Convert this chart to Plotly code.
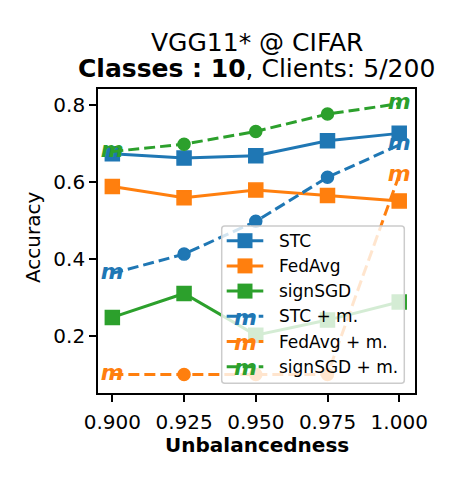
import plotly.graph_objects as go

# ---------------- data ----------------
unbalancedness = [0.900, 0.925, 0.950, 0.975, 1.000]
stc = [0.673, 0.662, 0.668, 0.707, 0.726]
fedavg = [0.588, 0.559, 0.579, 0.565, 0.551]
signsgd = [0.249, 0.311, 0.203, 0.242, 0.289]
stc_m = [0.363, 0.413, 0.498, 0.612, 0.696]
fedavg_m = [0.101, 0.101, 0.101, 0.101, 0.618]
signsgd_m = [0.679, 0.698, 0.731, 0.776, 0.803]

series_names = ["STC", "FedAvg", "signSGD", "STC + m.", "FedAvg + m.", "signSGD + m."]
colors = ["#1f77b4", "#ff7f0e", "#2ca02c"]
x_ticks = [0.900, 0.925, 0.950, 0.975, 1.000]
y_ticks = [0.2, 0.4, 0.6, 0.8]

W, H = 450, 480
L, R, T, B = 98, 35, 89, 87
PW, PH = W - L - R, H - T - B
FONT = "DejaVu Sans"
DASH = "11px,5px"
M_SIZE = 22


def px_x(p):
    return (p - L) / PW


def px_y(p):
    return (H - B - p) / PH


fig = go.Figure()

solid = [stc, fedavg, signsgd]
momentum = [stc_m, fedavg_m, signsgd_m]

for vals, c, name in zip(solid, colors, series_names[:3]):
    fig.add_trace(go.Scatter(
        x=unbalancedness, y=vals, mode="lines+markers", name=name,
        line=dict(color=c, width=3),
        marker=dict(symbol="square", size=14, color=c, line=dict(color=c, width=1.5)),
        showlegend=False))

for vals, c, name in zip(momentum, colors, series_names[3:]):
    mid_x = unbalancedness[1:-1]
    mid_y = vals[1:-1]
    fig.add_trace(go.Scatter(
        x=unbalancedness, y=vals, mode="lines", name=name,
        line=dict(color=c, width=3, dash=DASH), showlegend=False))
    fig.add_trace(go.Scatter(
        x=mid_x, y=mid_y, mode="markers", name=name,
        marker=dict(symbol="circle", size=12, color=c, line=dict(color=c, width=1.5)),
        showlegend=False))
    fig.add_trace(go.Scatter(
        x=[unbalancedness[0], unbalancedness[-1]], y=[vals[0], vals[-1]],
        mode="text", text=["m", "m"], textposition="middle center",
        textfont=dict(family=FONT, size=M_SIZE, color=c, style="italic", weight="bold"),
        name=name, showlegend=False))

# ---------------- manual legend ----------------
shapes = []
annotations = []
lx0, lx1, ly0, ly1 = 221.7, 404.3, 226.0, 383.3
rr = 3.0
x0, x1 = px_x(lx0), px_x(lx1)
y0, y1 = px_y(ly1), px_y(ly0)
rx, ry = rr / PW, rr / PH
path = (f"M {x0+rx},{y0} L {x1-rx},{y0} Q {x1},{y0} {x1},{y0+ry} "
        f"L {x1},{y1-ry} Q {x1},{y1} {x1-rx},{y1} L {x0+rx},{y1} "
        f"Q {x0},{y1} {x0},{y1-ry} L {x0},{y0+ry} Q {x0},{y0} {x0+rx},{y0} Z")
shapes.append(dict(type="path", path=path, xref="paper", yref="paper", layer="above",
                   fillcolor="rgba(255,255,255,0.8)", line=dict(color="#cccccc", width=1.5)))

row0, step = 240.7, 25.2
hx0, hx1, hxc = 226.7, 263.3, 245.0
for i, name in enumerate(series_names):
    ry_ = row0 + i * step
    c = colors[i % 3]
    dashed = i >= 3
    shapes.append(dict(type="line", xref="paper", yref="paper", layer="above",
                       x0=px_x(hx0), x1=px_x(hx1), y0=px_y(ry_), y1=px_y(ry_),
                       line=dict(color=c, width=3, dash=DASH if dashed else "solid")))
    if not dashed:
        s = 7.5
        shapes.append(dict(type="rect", xref="paper", yref="paper", layer="above",
                           x0=px_x(hxc - s), x1=px_x(hxc + s), y0=px_y(ry_ + s), y1=px_y(ry_ - s),
                           fillcolor=c, line=dict(color=c, width=0)))
    else:
        annotations.append(dict(text="m", xref="paper", yref="paper", x=px_x(hxc), y=px_y(ry_ + 1),
                                xanchor="center", yanchor="middle", showarrow=False,
                                font=dict(family=FONT, size=M_SIZE, color=c, style="italic", weight="bold")))
    annotations.append(dict(text=name, xref="paper", yref="paper", x=px_x(276.7), y=px_y(ry_),
                            xanchor="left", yanchor="middle", showarrow=False,
                            font=dict(family=FONT, size=17, color="black")))

# ---------------- titles ----------------
cx = px_x((L + W - R) / 2)
annotations.append(dict(text="VGG11* @ CIFAR", xref="paper", yref="paper", x=cx, y=px_y(42),
                        xanchor="center", yanchor="middle", showarrow=False,
                        font=dict(family=FONT, size=25, color="black")))
annotations.append(dict(text="<b>Classes : 10</b>, Clients: 5/200", xref="paper", yref="paper",
                        x=cx, y=px_y(68.5), xanchor="center", yanchor="middle", showarrow=False,
                        font=dict(family=FONT, size=25, color="black")))
annotations.append(dict(text="<b>Unbalancedness</b>", xref="paper", yref="paper", x=cx, y=px_y(445),
                        xanchor="center", yanchor="middle", showarrow=False,
                        font=dict(family=FONT, size=20, color="black")))
annotations.append(dict(text="Accuracy", xref="paper", yref="paper", x=px_x(33), y=px_y(238),
                        xanchor="center", yanchor="middle", showarrow=False, textangle=-90,
                        font=dict(family=FONT, size=20, color="black")))

fig.update_layout(
    width=W, height=H, margin=dict(l=L, r=R, t=T, b=B, pad=0),
    paper_bgcolor="white", plot_bgcolor="white",
    font=dict(family=FONT, size=20, color="black"),
    shapes=shapes, annotations=annotations, showlegend=False,
    xaxis=dict(range=[0.895, 1.0055], tickvals=x_ticks, tickformat=".3f",
               showgrid=False, zeroline=False, showline=True, mirror=True,
               linecolor="black", linewidth=1.7, ticks="outside", ticklen=7,
               tickwidth=1.7, tickcolor="black", tickfont=dict(size=20),
               ticklabelstandoff=3),
    yaxis=dict(range=[0.053, 0.841], tickvals=y_ticks, tickformat=".1f",
               showgrid=False, zeroline=False, showline=True, mirror=True,
               linecolor="black", linewidth=1.7, ticks="outside", ticklen=7,
               tickwidth=1.7, tickcolor="black", tickfont=dict(size=20)),
)

fig.write_html("out.html")
